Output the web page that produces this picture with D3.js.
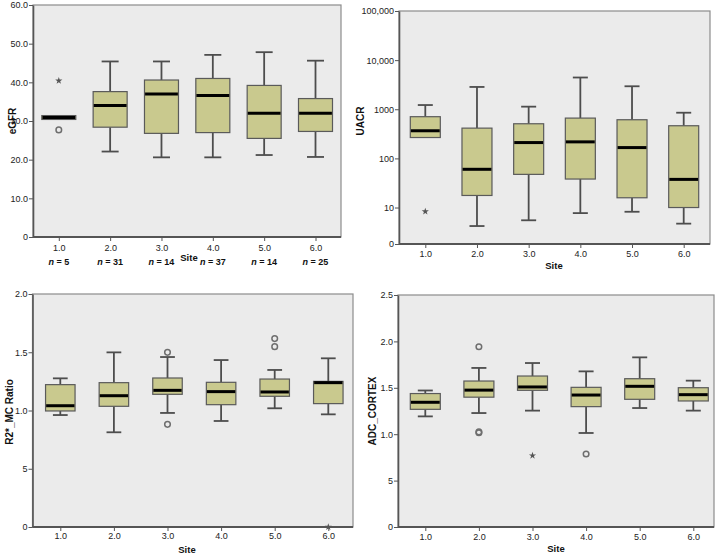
<!DOCTYPE html>
<html>
<head>
<meta charset="utf-8">
<script src="https://cdn.jsdelivr.net/npm/d3@7"></script>
<style>
    body { margin: 0; background: #fff; }
    svg { display: block; font-family: "Liberation Sans", Arial, sans-serif; }
    .tick text { font-size: 9px; fill: #222; }
    .axis-title { font-size: 10px; font-weight: bold; fill: #111; }
    .site-title { font-size: 9.5px; font-weight: bold; fill: #111; }
    .n-label { font-size: 9px; font-weight: bold; fill: #111; }
</style>
</head>
<body>
<svg id="chart" width="722" height="556"></svg>
<script>
const sites = ["1.0", "2.0", "3.0", "4.0", "5.0", "6.0"];
const siteN = [5, 31, 14, 37, 14, 25];

// box stats per site: [low whisker, Q1, median, Q3, high whisker]
const egfrStats = [
    [30.4, 30.4, 30.9, 31.4, 31.4],
    [22.1, 28.4, 34.0, 37.6, 45.4],
    [20.6, 26.8, 37.0, 40.6, 45.4],
    [20.6, 27.0, 36.6, 41.0, 47.1],
    [21.2, 25.5, 32.0, 39.2, 47.8],
    [20.7, 27.3, 32.0, 35.8, 45.6]
];
const egfrOutliers = [
    {site: "1.0", value: 40.4, kind: "extreme"},
    {site: "1.0", value: 27.7, kind: "outlier"}
];
const egfrTicks = [0, 10, 20, 30, 40, 50, 60];
const egfrTickLabels = ["0", "10.0", "20.0", "30.0", "40.0", "50.0", "60.0"];

const uacrStats = [
    [266, 266, 365, 706, 1219],
    [4.2, 17.6, 60, 413, 2845],
    [5.5, 47.3, 210, 507, 1130],
    [7.7, 38, 217, 661, 4430],
    [8.2, 15.8, 166, 612, 2938],
    [4.7, 10, 37.4, 462, 851]
];
const uacrOutliers = [
    {site: "1.0", value: 8.3, kind: "extreme"}
];
const uacrTicks = [1.81, 10, 100, 1000, 10000, 100000];
const uacrTickLabels = ["0", "10", "100", "1000", "10,000", "100,000"];

const r2Stats = [
    [0.961, 0.996, 1.041, 1.222, 1.276],
    [0.813, 1.036, 1.127, 1.239, 1.499],
    [0.979, 1.139, 1.173, 1.279, 1.459],
    [0.910, 1.050, 1.162, 1.242, 1.433],
    [1.019, 1.122, 1.159, 1.270, 1.348],
    [0.967, 1.059, 1.239, 1.250, 1.448]
];
const r2Outliers = [
    {site: "3.0", value: 1.499, kind: "outlier"},
    {site: "3.0", value: 0.881, kind: "outlier"},
    {site: "5.0", value: 1.617, kind: "outlier"},
    {site: "5.0", value: 1.548, kind: "outlier"},
    {site: "6.0", value: 0, kind: "extreme"}
];
const r2Ticks = [0, 0.5, 1, 1.5, 2];
const r2TickLabels = ["0", "5", "1.0", "1.5", "2.0"];

const adcStats = [
    [1.192, 1.268, 1.344, 1.438, 1.471],
    [1.228, 1.399, 1.475, 1.573, 1.714],
    [1.254, 1.473, 1.509, 1.627, 1.767],
    [1.013, 1.297, 1.422, 1.505, 1.677],
    [1.282, 1.376, 1.516, 1.598, 1.828],
    [1.254, 1.358, 1.426, 1.501, 1.577]
];
const adcOutliers = [
    {site: "2.0", value: 1.943, kind: "outlier"},
    {site: "2.0", value: 1.025, kind: "outlier"},
    {site: "2.0", value: 1.015, kind: "outlier"},
    {site: "3.0", value: 0.769, kind: "extreme"},
    {site: "4.0", value: 0.787, kind: "outlier"}
];
const adcTicks = [0, 0.5, 1, 1.5, 2, 2.5];
const adcTickLabels = ["0", "5", "1.0", "1.5", "2.0", "2.5"];

// panel layout (pixels)
const panels = [
    {stats: egfrStats, outliers: egfrOutliers, ticks: egfrTicks, tickLabels: egfrTickLabels,
     domain: [0, 60], log: false, title: "eGFR",
     x0: 33, x1: 341, y0: 5, y1: 237, xRange: [58.8, 315.5], boxW: 34, tickPad: 3.8,
     titleX: 12, titleY: 121, siteX: 189, siteY: 258, showN: true, nY: 262},
    {stats: uacrStats, outliers: uacrOutliers, ticks: uacrTicks, tickLabels: uacrTickLabels,
     domain: [1.81, 100000], log: true, title: "UACR",
     x0: 399, x1: 710, y0: 11, y1: 244, xRange: [425.3, 683.7], boxW: 30, tickPad: 2.8,
     titleX: 360, titleY: 121, siteX: 554, siteY: 266, showN: false},
    {stats: r2Stats, outliers: r2Outliers, ticks: r2Ticks, tickLabels: r2TickLabels,
     domain: [0, 2], log: false, title: "R2*_MC Ratio",
     x0: 32.5, x1: 353, y0: 294, y1: 527, xRange: [60.3, 328.3], boxW: 29.5, tickPad: 1.8,
     titleX: 9, titleY: 412, siteX: 187, siteY: 550, showN: false},
    {stats: adcStats, outliers: adcOutliers, ticks: adcTicks, tickLabels: adcTickLabels,
     domain: [0, 2.5], log: false, title: "ADC_CORTEX",
     x0: 398, x1: 714, y0: 295, y1: 527, xRange: [425.3, 693.3], boxW: 30, tickPad: 2.8,
     titleX: 372, titleY: 411, siteX: 556, siteY: 549, showN: false}
];

const svg = d3.select("#chart");

function drawPanel(p) {
    let g = svg.append("g");

    let x = d3.scalePoint().domain(sites).range(p.xRange);
    let y = (p.log ? d3.scaleLog() : d3.scaleLinear()).domain(p.domain).range([p.y1, p.y0]);

    // plot background + frame
    g.append("rect")
        .attr("x", p.x0).attr("y", p.y0)
        .attr("width", p.x1 - p.x0).attr("height", p.y1 - p.y0)
        .attr("fill", "#ebebeb")
        .attr("stroke", "#8c8c8c")
        .attr("stroke-width", 1.2);

    // Y axis
    let yAxis = g.append("g")
        .attr("transform", "translate(" + p.x0 + ",0)")
        .call(d3.axisLeft(y).tickValues(p.ticks).tickFormat((d, i) => p.tickLabels[i]).tickSize(4).tickSizeOuter(0).tickPadding(1));
    yAxis.select(".domain").attr("stroke", "#555").attr("stroke-width", 1.6);
    yAxis.selectAll(".tick line").attr("stroke", "#555");

    // X axis
    let xAxis = g.append("g")
        .attr("transform", "translate(0," + p.y1 + ")")
        .call(d3.axisBottom(x).tickSize(4).tickSizeOuter(0).tickPadding(p.tickPad));
    xAxis.select(".domain").attr("d", "M" + p.x0 + ",0H" + p.x1).attr("stroke", "#555").attr("stroke-width", 1.8);
    xAxis.selectAll(".tick line").attr("stroke", "#555");

    // boxes
    let boxData = p.stats.map((s, i) => ({site: sites[i], lo: s[0], q1: s[1], med: s[2], q3: s[3], hi: s[4]}));
    let boxes = g.selectAll(".box").data(boxData).enter().append("g").attr("class", "box");
    let half = p.boxW / 2, cap = p.boxW / 4;

    // whiskers + caps
    let upper = boxes.filter(d => d.hi > d.q3);
    upper.append("line")
        .attr("x1", d => x(d.site)).attr("x2", d => x(d.site))
        .attr("y1", d => y(d.hi)).attr("y2", d => y(d.q3))
        .attr("stroke", "#4d4d4d").attr("stroke-width", 1.8);
    upper.append("line")
        .attr("x1", d => x(d.site) - cap).attr("x2", d => x(d.site) + cap)
        .attr("y1", d => y(d.hi)).attr("y2", d => y(d.hi))
        .attr("stroke", "#4d4d4d").attr("stroke-width", 1.8);

    let lower = boxes.filter(d => d.lo < d.q1);
    lower.append("line")
        .attr("x1", d => x(d.site)).attr("x2", d => x(d.site))
        .attr("y1", d => y(d.lo)).attr("y2", d => y(d.q1))
        .attr("stroke", "#4d4d4d").attr("stroke-width", 1.8);
    lower.append("line")
        .attr("x1", d => x(d.site) - cap).attr("x2", d => x(d.site) + cap)
        .attr("y1", d => y(d.lo)).attr("y2", d => y(d.lo))
        .attr("stroke", "#4d4d4d").attr("stroke-width", 1.8);

    // box body
    boxes.append("rect")
        .attr("x", d => x(d.site) - half)
        .attr("y", d => y(d.q3))
        .attr("width", p.boxW)
        .attr("height", d => Math.max(2, y(d.q1) - y(d.q3)))
        .attr("fill", "#c9c98e")
        .attr("stroke", "#5a5a5a")
        .attr("stroke-width", 1.2);

    // median
    boxes.append("line")
        .attr("x1", d => x(d.site) - half + 0.6)
        .attr("x2", d => x(d.site) + half - 0.6)
        .attr("y1", d => y(d.med)).attr("y2", d => y(d.med))
        .attr("stroke", "#000").attr("stroke-width", 3);

    // outliers
    g.selectAll(".outlier").data(p.outliers.filter(o => o.kind === "outlier")).enter()
        .append("circle")
        .attr("cx", d => x(d.site)).attr("cy", d => y(d.value))
        .attr("r", 2.8)
        .attr("fill", "none").attr("stroke", "#6e6e6e").attr("stroke-width", 1.5);

    g.selectAll(".extreme").data(p.outliers.filter(o => o.kind === "extreme")).enter()
        .append("path")
        .attr("transform", d => "translate(" + x(d.site) + "," + y(d.value) + ")")
        .attr("d", d3.symbol().type(d3.symbolStar).size(16))
        .attr("fill", "#555");

    // axis titles
    g.append("text").attr("class", "axis-title")
        .attr("transform", "translate(" + p.titleX + "," + p.titleY + ") rotate(-90)")
        .attr("text-anchor", "middle").attr("dy", "0.35em")
        .text(p.title);

    g.append("text").attr("class", "site-title")
        .attr("x", p.siteX).attr("y", p.siteY)
        .attr("text-anchor", "middle").attr("dy", "0.35em")
        .text("Site");

    if (p.showN) {
        let nText = g.selectAll(".n-label").data(siteN).enter().append("text")
            .attr("class", "n-label")
            .attr("x", (d, i) => x(sites[i])).attr("y", p.nY)
            .attr("text-anchor", "middle").attr("dy", "0.35em");
        nText.append("tspan").attr("font-style", "italic").text("n");
        nText.append("tspan").text(d => " = " + d);
    }
}

panels.forEach(drawPanel);
</script>
</body>
</html>
